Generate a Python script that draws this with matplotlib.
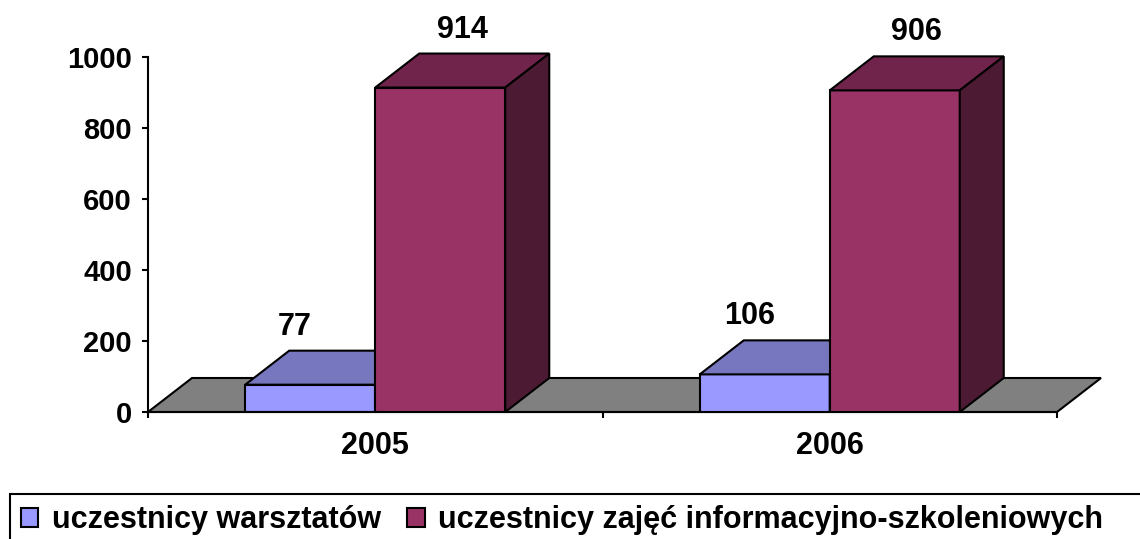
import numpy as np
import matplotlib.pyplot as plt
from matplotlib.patches import Polygon, Rectangle, Patch

# ---- data ----
years = ['2005', '2006']
warsztaty = [77, 106]
zajecia = [914, 906]
series_names = ['uczestnicy warsztatów', 'uczestnicy zajęć informacyjno-szkoleniowych']

# colours: front, top, side
blue = ('#9999FF', '#7777BF', '#4D4D80')
maroon = ('#993366', '#70244B', '#4C1A33')
floor_col = '#808080'

plt.rcParams['font.family'] = ['Liberation Sans', 'DejaVu Sans']
plt.rcParams['font.weight'] = 'bold'

W, H = 1140, 539
fig = plt.figure(figsize=(W / 100, H / 100), dpi=100)
ax = fig.add_axes([148 / W, 1 - 412 / H, 909 / W, 355 / H])

n = len(years)
ax.set_xlim(0, n)
ax.set_ylim(0, 1000)

# fake 3D depth, in data units
dx = 44 / 454.5
dy = 34 / 355 * 1000
bw = 130 / 454.5
lw = 1.5

# floor
x0, x1 = ax.get_xlim()
ax.add_patch(Polygon([(x0, 0), (x1, 0), (x1 + dx, dy), (x0 + dx, dy)],
                     closed=True, fc=floor_col, ec='black', lw=lw,
                     clip_on=False, zorder=1))


def box(left, h, cols, z):
    ax.bar(left, h, bw, align='edge', color=cols[0], edgecolor='black',
           linewidth=lw, zorder=z)
    ax.add_patch(Polygon([(left, h), (left + bw, h), (left + bw + dx, h + dy),
                          (left + dx, h + dy)], closed=True, fc=cols[1],
                         ec='black', lw=lw, clip_on=False, zorder=z))
    ax.add_patch(Polygon([(left + bw, 0), (left + bw + dx, dy),
                          (left + bw + dx, h + dy), (left + bw, h)],
                         closed=True, fc=cols[2], ec='black', lw=lw,
                         clip_on=False, zorder=z))


centers = np.arange(n) + 0.5
for i, c in enumerate(centers):
    box(c - bw, warsztaty[i], blue, 2 + i * 2)
    box(c, zajecia[i], maroon, 3 + i * 2)
    ax.annotate(str(warsztaty[i]), (c - bw / 2, warsztaty[i] + dy),
                xytext=(-11, 11.5), textcoords='offset points', ha='center',
                va='baseline', fontsize=22, annotation_clip=False)
    ax.annotate(str(zajecia[i]), (c + bw / 2 + dx / 2, zajecia[i] + dy),
                xytext=(0, 11.5), textcoords='offset points', ha='center',
                va='baseline', fontsize=22, annotation_clip=False)

# axes styling
for s in ['top', 'right']:
    ax.spines[s].set_visible(False)
ax.spines['left'].set_linewidth(lw)
ax.spines['bottom'].set_linewidth(lw)

ax.set_yticks(range(0, 1001, 200))
ax.tick_params(axis='y', direction='out', length=4.5, width=lw, pad=7,
               labelsize=21)
ax.set_xticks(np.arange(n + 1))
ax.set_xticklabels([])
ax.set_xticks(centers, minor=True)
ax.set_xticklabels(years, minor=True)
ax.tick_params(axis='x', which='major', direction='out', length=4.5, width=lw)
ax.tick_params(axis='x', which='minor', length=0, pad=14, labelsize=22)

# legend
handles = [Patch(fc=blue[0], ec='black', lw=lw),
           Patch(fc=maroon[0], ec='black', lw=lw)]
fig.legend(handles, series_names, loc='center left',
           bbox_to_anchor=(21 / W, 1 - 520 / H), frameon=False, ncol=2,
           borderpad=0, borderaxespad=0, handlelength=0.57,
           handleheight=0.57, handletextpad=0.45, columnspacing=0.85,
           fontsize=22)
fig.add_artist(Rectangle((10 / W, -0.1), 1.2, 0.1 + (H - 494) / H,
                         transform=fig.transFigure, fill=False,
                         ec='black', lw=lw))

fig.savefig('out.png', dpi=100)
